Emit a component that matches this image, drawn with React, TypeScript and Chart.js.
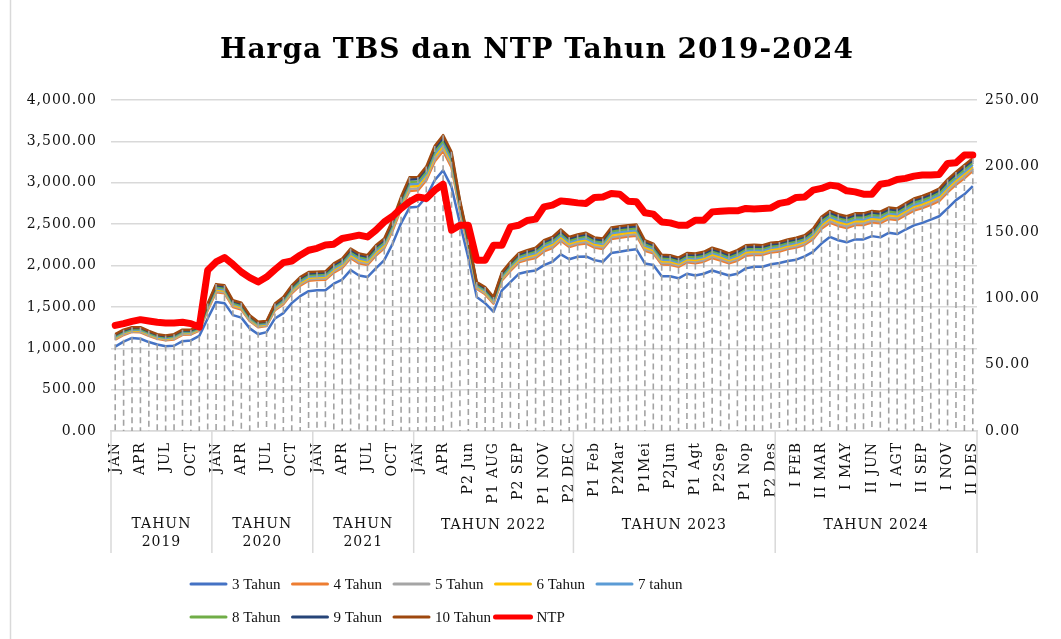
import React, { useEffect, useRef } from "react";
import { Chart, registerables } from "chart.js";
Chart.register(...registerables);

const categories: string[] = [
  "JAN", "FEB", "MAR", "APR", "MAY", "JUN", "JUL", "AUG", "SEP", "OCT", "NOV", "DEC",
  "JAN", "FEB", "MAR", "APR", "MAY", "JUN", "JUL", "AUG", "SEP", "OCT", "NOV", "DEC",
  "JAN", "FEB", "MAR", "APR", "MAY", "JUN", "JUL", "AUG", "SEP", "OCT", "NOV", "DEC",
  "JAN", "FEB", "MAR", "APR", "MAY", "P1 Jun", "P2 Jun", "P1 Jul", "P2 Jul", "P1 AUG", "P2 AUG",
  "P1 SEP", "P2 SEP", "P1 OKT", "P2 OKT", "P1 NOV", "P2 NOV", "P1 DEC", "P2 DEC",
  "P1 Jan", "P2 Jan", "P1 Feb", "P2 Feb", "P1 Mar", "P2Mar", "P1 Apr", "P2 Apr", "P1Mei", "P2Mei",
  "P1 Jun", "P2Jun", "P1 Jul", "P2 Jul", "P1 Agt", "P2 Agt", "P1 Sep", "P2Sep", "P1 Okt", "P2 Okt",
  "P1 Nop", "P2 Nop", "P1 Des", "P2 Des",
  "I JAN", "II JAN", "I FEB", "II FEB", "I MAR", "II MAR", "I APR", "II APR", "I MAY", "II MAY",
  "I JUN", "II JUN", "I JUL", "II JUL", "I AGT", "II AGT", "I SEP", "II SEP", "I OKT", "II OKT",
  "I NOV", "II NOV", "I DES", "II DES",
];

const yearGroups = [
  { label: ["TAHUN", "2019"], start: 0, end: 11 },
  { label: ["TAHUN", "2020"], start: 12, end: 23 },
  { label: ["TAHUN", "2021"], start: 24, end: 35 },
  { label: ["TAHUN 2022"], start: 36, end: 54 },
  { label: ["TAHUN 2023"], start: 55, end: 78 },
  { label: ["TAHUN 2024"], start: 79, end: 102 },
];

const tahun3 = [
  1020, 1080, 1125, 1115, 1075, 1045, 1025, 1030, 1085, 1095, 1150, 1360,
  1560, 1545, 1400, 1370, 1240, 1170, 1195, 1360, 1425, 1545, 1630, 1690,
  1700, 1700, 1780, 1830, 1945, 1880, 1860, 1965, 2065, 2265, 2510, 2700,
  2710, 2830, 3030, 3150, 2950, 2510, 2090, 1620, 1545, 1440, 1700, 1800, 1900, 1925, 1940, 2005, 2045, 2135, 2075,
  2105, 2110, 2065, 2045, 2150, 2165, 2185, 2195, 2025, 2005, 1870, 1870, 1845, 1900, 1880, 1900, 1940, 1910, 1880, 1900, 1965, 1985, 1985, 2015,
  2030, 2055, 2070, 2110, 2165, 2265, 2345, 2305, 2280, 2315, 2315, 2355, 2340, 2395, 2380, 2435, 2485, 2515, 2555, 2595, 2690, 2790, 2860, 2960,
];
const tahun4 = [
  1103, 1160, 1197, 1192, 1149, 1114, 1097, 1107, 1162, 1167, 1213, 1459,
  1678, 1663, 1499, 1469, 1328, 1253, 1269, 1459, 1532, 1663, 1757, 1817,
  1824, 1827, 1915, 1970, 2088, 2026, 2006, 2119, 2208, 2422, 2686, 2901,
  2908, 3031, 3258, 3384, 3184, 2664, 2217, 1719, 1652, 1539, 1821, 1935, 2038, 2068, 2091, 2170, 2210, 2300, 2224,
  2254, 2267, 2216, 2199, 2321, 2336, 2350, 2360, 2179, 2148, 2013, 2010, 1983, 2038, 2026, 2046, 2091, 2061, 2026, 2057, 2119, 2131, 2128, 2158,
  2170, 2198, 2216, 2250, 2319, 2444, 2518, 2478, 2453, 2488, 2488, 2523, 2511, 2563, 2551, 2608, 2664, 2694, 2734, 2779, 2883, 2977, 3055, 3144,
];
const tahun5 = [
  1113, 1170, 1206, 1202, 1159, 1123, 1106, 1117, 1172, 1176, 1221, 1472,
  1693, 1678, 1512, 1482, 1339, 1263, 1279, 1472, 1546, 1678, 1773, 1833,
  1840, 1843, 1932, 1988, 2106, 2044, 2024, 2139, 2226, 2442, 2708, 2926,
  2933, 3056, 3287, 3414, 3214, 2684, 2233, 1732, 1666, 1552, 1836, 1952, 2055, 2086, 2111, 2191, 2231, 2321, 2242,
  2272, 2287, 2236, 2219, 2342, 2357, 2371, 2381, 2199, 2166, 2031, 2028, 2000, 2055, 2044, 2064, 2111, 2081, 2044, 2077, 2139, 2149, 2146, 2176,
  2188, 2216, 2234, 2268, 2339, 2467, 2540, 2500, 2475, 2510, 2510, 2544, 2532, 2584, 2572, 2630, 2687, 2717, 2757, 2803, 2907, 3001, 3080, 3168,
];
const tahun6 = [
  1125, 1182, 1216, 1213, 1170, 1133, 1116, 1128, 1183, 1186, 1231, 1486,
  1711, 1696, 1526, 1496, 1352, 1275, 1290, 1486, 1562, 1696, 1791, 1851,
  1858, 1861, 1952, 2009, 2127, 2066, 2046, 2161, 2247, 2465, 2734, 2956,
  2962, 3086, 3321, 3448, 3248, 2706, 2251, 1746, 1682, 1566, 1854, 1972, 2075, 2107, 2133, 2215, 2255, 2345, 2264,
  2294, 2310, 2258, 2241, 2367, 2382, 2395, 2405, 2221, 2187, 2052, 2049, 2020, 2075, 2066, 2086, 2133, 2103, 2066, 2100, 2161, 2171, 2167, 2197,
  2209, 2237, 2256, 2289, 2361, 2493, 2566, 2526, 2501, 2536, 2536, 2569, 2557, 2609, 2597, 2656, 2713, 2743, 2783, 2830, 2935, 3028, 3109, 3195,
];
const tahun7 = [
  1136, 1192, 1225, 1223, 1179, 1141, 1125, 1138, 1193, 1195, 1239, 1499,
  1726, 1711, 1539, 1509, 1363, 1286, 1299, 1499, 1575, 1711, 1807, 1867,
  1873, 1877, 1969, 2026, 2145, 2084, 2064, 2181, 2265, 2484, 2756, 2981,
  2987, 3111, 3350, 3477, 3277, 2726, 2267, 1759, 1695, 1579, 1869, 1989, 2093, 2125, 2152, 2236, 2276, 2366, 2283,
  2313, 2329, 2277, 2261, 2389, 2404, 2416, 2426, 2241, 2205, 2070, 2066, 2038, 2093, 2084, 2104, 2152, 2122, 2084, 2119, 2181, 2189, 2185, 2215,
  2226, 2255, 2274, 2306, 2381, 2515, 2588, 2548, 2523, 2558, 2558, 2590, 2579, 2630, 2619, 2678, 2735, 2765, 2805, 2853, 2960, 3052, 3133, 3218,
];
const tahun8 = [
  1148, 1203, 1236, 1234, 1190, 1151, 1136, 1149, 1204, 1206, 1248, 1513,
  1743, 1728, 1553, 1523, 1376, 1298, 1310, 1513, 1591, 1728, 1826, 1886,
  1891, 1896, 1988, 2047, 2166, 2105, 2085, 2203, 2286, 2507, 2782, 3010,
  3016, 3140, 3383, 3511, 3311, 2748, 2286, 1773, 1711, 1593, 1887, 2008, 2113, 2146, 2174, 2260, 2300, 2390, 2305,
  2335, 2352, 2299, 2283, 2414, 2429, 2440, 2450, 2263, 2226, 2091, 2087, 2058, 2113, 2105, 2125, 2174, 2144, 2105, 2142, 2203, 2210, 2206, 2236,
  2247, 2276, 2295, 2327, 2403, 2541, 2613, 2573, 2548, 2583, 2583, 2614, 2604, 2654, 2644, 2703, 2761, 2791, 2831, 2880, 2988, 3079, 3162, 3245,
];
const tahun9 = [
  1160, 1215, 1246, 1245, 1201, 1161, 1146, 1160, 1215, 1216, 1257, 1527,
  1760, 1745, 1567, 1537, 1389, 1310, 1321, 1527, 1606, 1745, 1844, 1904,
  1909, 1914, 2008, 2067, 2187, 2126, 2106, 2225, 2307, 2530, 2808, 3039,
  3045, 3169, 3416, 3545, 3345, 2770, 2304, 1787, 1726, 1607, 1905, 2028, 2133, 2167, 2196, 2284, 2324, 2414, 2326,
  2356, 2375, 2321, 2305, 2438, 2453, 2464, 2474, 2285, 2247, 2112, 2107, 2078, 2133, 2126, 2146, 2196, 2166, 2126, 2165, 2225, 2231, 2227, 2257,
  2267, 2297, 2316, 2347, 2425, 2567, 2638, 2598, 2573, 2608, 2608, 2639, 2628, 2679, 2668, 2728, 2787, 2817, 2857, 2907, 3016, 3106, 3190, 3272,
];
const tahun10 = [
  1170, 1225, 1255, 1255, 1210, 1170, 1155, 1170, 1225, 1225, 1265, 1540,
  1775, 1760, 1580, 1550, 1400, 1320, 1330, 1540, 1620, 1760, 1860, 1920,
  1925, 1930, 2025, 2085, 2205, 2145, 2125, 2245, 2325, 2550, 2830, 3065,
  3070, 3195, 3445, 3575, 3375, 2790, 2320, 1800, 1740, 1620, 1920, 2045, 2150, 2185, 2215, 2305, 2345, 2435, 2345,
  2375, 2395, 2340, 2325, 2460, 2475, 2485, 2495, 2305, 2265, 2130, 2125, 2095, 2150, 2145, 2165, 2215, 2185, 2145, 2185, 2245, 2250, 2245, 2275,
  2285, 2315, 2335, 2365, 2445, 2590, 2660, 2620, 2595, 2630, 2630, 2660, 2650, 2700, 2690, 2750, 2810, 2840, 2880, 2930, 3040, 3130, 3215, 3295,
];
const ntp = [
  79.8, 81.1, 82.8, 84.1, 83.1, 82.1, 81.6, 81.6, 82.1, 81.1, 78.5, 121.4,
  127.7, 131.0, 125.9, 120.1, 115.9, 112.6, 116.3, 121.9, 127.2, 128.4, 132.8, 136.5,
  138.0, 140.5, 141.1, 145.4, 146.6, 147.9, 146.6, 151.7, 157.9, 162.2, 168.1, 173.1,
  176.8, 175.6, 181.9, 186.4, 151.7, 155.4, 155.4, 129.0, 129.0, 140.3, 140.3, 154.2, 155.4, 159.0, 160.0, 169.3, 170.6, 173.8, 173.1,
  172.3, 171.9, 176.4, 176.8, 179.4, 178.9, 173.6, 173.1, 164.8, 163.8, 157.9, 157.2, 155.4, 155.4, 159.2, 159.2, 165.5, 166.0, 166.3, 166.3, 168.1, 167.7, 168.1, 168.5,
  171.9, 173.1, 176.4, 176.8, 181.9, 183.2, 185.7, 184.9, 181.4, 180.6, 178.9, 178.9, 186.4, 187.4, 190.0, 190.8, 192.5, 193.3, 193.3, 193.8, 202.1, 202.6, 208.4, 208.4,
];

const tbsNames = ["3 Tahun", "4 Tahun", "5 Tahun", "6 Tahun", "7 tahun", "8 Tahun", "9 Tahun", "10 Tahun"];
const tbsColors = ["#4472C4", "#ED7D31", "#A5A5A5", "#FFC000", "#5B9BD5", "#70AD47", "#264478", "#9E480E"];
const ntpName = "NTP";
const ntpColor = "#FF0000";
const leftTicks = { min: 0, max: 4000, step: 500 };
const rightTicks = { min: 0, max: 250, step: 50 };
const titleText = "Harga TBS dan NTP Tahun 2019-2024";

const W = 1061;
const H = 639;
const SERIF = '"DejaVu Serif", serif';

export default function App() {
  const ref = useRef<HTMLCanvasElement>(null);

  useEffect(() => {
    const canvas = ref.current;
    if (!canvas) return;
    const tbsData = [tahun3, tahun4, tahun5, tahun6, tahun7, tahun8, tahun9, tahun10];

    const datasets: any[] = tbsData.map((d, k) => ({
      label: tbsNames[k],
      data: d,
      borderColor: tbsColors[k],
      backgroundColor: tbsColors[k],
      borderWidth: 2.5,
      pointRadius: 0,
      pointHoverRadius: 0,
      tension: 0,
      borderJoinStyle: "round",
      yAxisID: "y",
      order: 8 - k,
    }));
    datasets.push({
      label: ntpName,
      data: ntp,
      borderColor: ntpColor,
      backgroundColor: ntpColor,
      borderWidth: 7,
      pointRadius: 0,
      pointHoverRadius: 0,
      tension: 0,
      borderJoinStyle: "round",
      borderCapStyle: "round",
      yAxisID: "y1",
      order: -1,
    });

    const setSpacing = (chart: any, v: string) => {
      try {
        (chart.ctx as any).letterSpacing = v;
      } catch (e) {
        /* ignore */
      }
    };

    const deco = {
      id: "deco",
      beforeUpdate(chart: any) {
        setSpacing(chart, "1px");
      },
      beforeLayout(chart: any) {
        setSpacing(chart, "1px");
      },
      beforeDraw(chart: any) {
        setSpacing(chart, "1px");
      },
      afterDatasetDraw(chart: any, args: any) {
        if (args.index !== 7) return;
        const { ctx, chartArea, scales } = chart;
        ctx.save();
        ctx.beginPath();
        ctx.rect(chartArea.left, chartArea.top, chartArea.right - chartArea.left, chartArea.bottom - chartArea.top);
        ctx.clip();
        ctx.strokeStyle = "#a3a3a3";
        ctx.lineWidth = 1.6;
        ctx.setLineDash([6, 4]);
        for (let i = 0; i < categories.length; i++) {
          let m = -Infinity;
          for (const s of tbsData) m = Math.max(m, s[i]);
          const x = scales.x.getPixelForValue(i);
          ctx.beginPath();
          ctx.moveTo(x, scales.y.getPixelForValue(m));
          ctx.lineTo(x, chartArea.bottom);
          ctx.stroke();
        }
        ctx.restore();
      },
      afterDraw(chart: any) {
        const { ctx, chartArea } = chart;
        ctx.save();
        // chart frame (left edge)
        ctx.strokeStyle = "#d9d9d9";
        ctx.lineWidth = 1.5;
        ctx.beginPath();
        ctx.moveTo(10.5, 0);
        ctx.lineTo(10.5, H);
        ctx.stroke();

        // title
        ctx.fillStyle = "#000";
        ctx.font = `bold 28px ${SERIF}`;
        ctx.textAlign = "center";
        ctx.textBaseline = "alphabetic";
        ctx.fillText(titleText, 537, 58);

        // year group separators and labels
        const n = categories.length;
        const cw = (chartArea.right - chartArea.left) / n;
        ctx.strokeStyle = "#d9d9d9";
        ctx.lineWidth = 1.5;
        const bounds = [0, ...yearGroups.map((g) => g.end + 1)];
        for (const b of bounds) {
          const x = chartArea.left + b * cw;
          ctx.beginPath();
          ctx.moveTo(x, chartArea.bottom);
          ctx.lineTo(x, 553);
          ctx.stroke();
        }
        ctx.fillStyle = "#111";
        ctx.font = `14px ${SERIF}`;
        ctx.textBaseline = "middle";
        for (const g of yearGroups) {
          const cx = chartArea.left + ((g.start + g.end + 1) / 2) * cw;
          if (g.label.length === 2) {
            ctx.fillText(g.label[0], cx, 524);
            ctx.fillText(g.label[1], cx, 542);
          } else {
            ctx.fillText(g.label[0], cx, 525);
          }
        }

        // legend
        setSpacing(chart, "0px");
        const items = [
          ...tbsNames.map((nm, k) => ({ nm, c: tbsColors[k], w: 3 })),
          { nm: ntpName, c: ntpColor, w: 5 },
        ];
        ctx.font = '15px "Liberation Serif", serif';
        ctx.textAlign = "left";
        items.forEach((it, k) => {
          const row = Math.floor(k / 5);
          const col = k % 5;
          const x = 190 + col * 101.5;
          const y = 584 + row * 33;
          ctx.strokeStyle = it.c;
          ctx.lineWidth = it.w;
          ctx.lineCap = "round";
          ctx.beginPath();
          ctx.moveTo(x + 1, y);
          ctx.lineTo(x + 36, y);
          ctx.stroke();
          ctx.fillStyle = "#111";
          ctx.fillText(it.nm, x + 42, y + 1);
        });
        ctx.restore();
        setSpacing(chart, "1px");
      },
    };

    const fmt = (v: any) =>
      Number(v).toLocaleString("en-US", { minimumFractionDigits: 2, maximumFractionDigits: 2 });

    const chart = new Chart(canvas, {
      type: "line",
      data: { labels: categories, datasets },
      options: {
        responsive: false,
        animation: false,
        devicePixelRatio: 1,
        layout: { padding: { top: 100, left: 0, right: 0, bottom: 0 } },
        plugins: {
          legend: { display: false },
          title: { display: false },
          tooltip: { enabled: false },
        },
        scales: {
          x: {
            type: "category",
            offset: true,
            grid: { display: false, drawTicks: false },
            border: { display: true, color: "#d9d9d9", width: 1.5 },
            ticks: {
              autoSkip: false,
              minRotation: 90,
              maxRotation: 90,
              padding: 11,
              color: "#111",
              font: { family: SERIF, size: 14 },
              callback: (_v: any, i: number) => (i % 3 === 0 ? categories[i] : ""),
            },
            afterFit: (s: any) => {
              s.height = 208;
            },
          },
          y: {
            position: "left",
            min: leftTicks.min,
            max: leftTicks.max,
            ticks: {
              stepSize: leftTicks.step,
              padding: 14,
              color: "#111",
              font: { family: SERIF, size: 14 },
              callback: fmt,
            },
            grid: { color: "#d9d9d9", lineWidth: 1.5, drawTicks: false },
            border: { display: false },
            afterFit: (s: any) => {
              s.width = 111;
            },
          },
          y1: {
            position: "right",
            min: rightTicks.min,
            max: rightTicks.max,
            ticks: {
              stepSize: rightTicks.step,
              padding: 8,
              color: "#111",
              font: { family: SERIF, size: 14 },
              callback: fmt,
            },
            grid: { drawOnChartArea: false, drawTicks: false },
            border: { display: false },
            afterFit: (s: any) => {
              s.width = 84;
            },
          },
        },
      } as any,
      plugins: [deco],
    });
    return () => chart.destroy();
  }, []);

  return (
    <div style={{ position: "fixed", left: 0, top: 0, width: W, height: H, background: "#fff" }}>
      <canvas ref={ref} width={W} height={H} style={{ width: W, height: H, display: "block" }} />
    </div>
  );
}
